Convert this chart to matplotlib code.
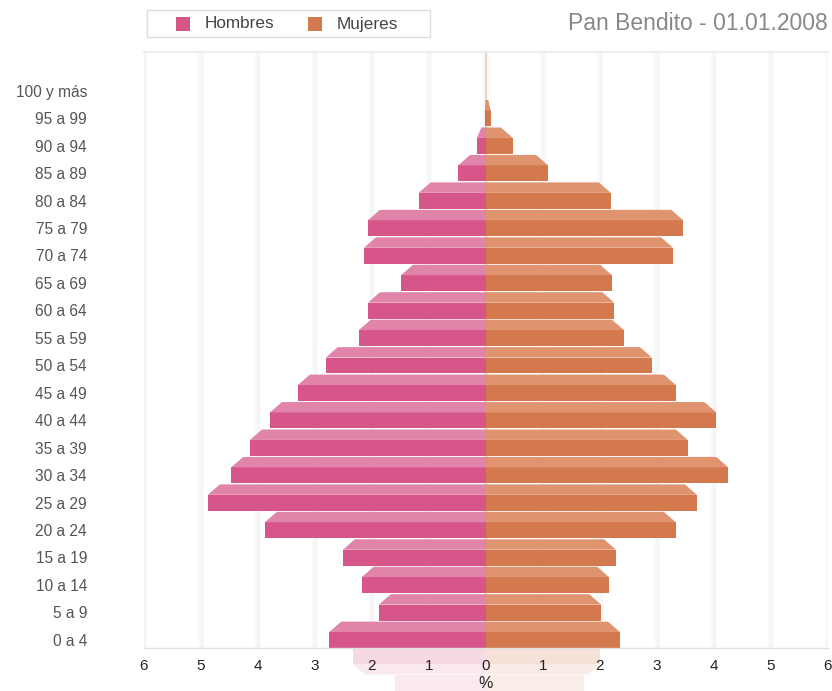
import matplotlib
matplotlib.use("Agg")
import matplotlib.pyplot as plt
from matplotlib.patches import Polygon, Rectangle

plt.rcParams['font.family'] = ['Liberation Sans', 'DejaVu Sans']

# ---------------- data ----------------
age_groups = ["0 a 4", "5 a 9", "10 a 14", "15 a 19", "20 a 24", "25 a 29",
              "30 a 34", "35 a 39", "40 a 44", "45 a 49", "50 a 54", "55 a 59",
              "60 a 64", "65 a 69", "70 a 74", "75 a 79", "80 a 84", "85 a 89",
              "90 a 94", "95 a 99", "100 y más"]
hombres = [2.75, 1.88, 2.18, 2.51, 3.88, 4.88, 4.47, 4.14, 3.79, 3.30, 2.81,
           2.23, 2.07, 1.49, 2.14, 2.07, 1.18, 0.49, 0.16, 0.02, 0.0]
mujeres = [2.35, 2.02, 2.16, 2.28, 3.33, 3.70, 4.25, 3.54, 4.04, 3.33, 2.91,
           2.42, 2.25, 2.21, 3.28, 3.46, 2.19, 1.09, 0.47, 0.08, 0.0]
x_ticks = [-6, -5, -4, -3, -2, -1, 0, 1, 2, 3, 4, 5, 6]
x_tick_labels = ["6", "5", "4", "3", "2", "1", "0", "1", "2", "3", "4", "5", "6"]
series_names = ["Hombres", "Mujeres"]
title = "Pan Bendito - 01.01.2008"

# ---------------- style ----------------
male_front, male_top = "#D6568A", "#E084A9"
female_front, female_top = "#D4784E", "#DF936F"
front_h, top_h, inset = 0.58, 0.96, 0.21
refl_scale = 0.85
refl_alpha = [0.22, 0.12]

W, H = 832, 691
fig = plt.figure(figsize=(W / 100, H / 100), dpi=100)
fig.patch.set_facecolor("white")

def fx(px):
    return px / W

def fy(py):
    return 1 - py / H

ax = fig.add_axes([fx(144), fy(648), fx(828) - fx(144), fy(52) - fy(648)])
ax.set_xlim(-6, 6)
ax.set_ylim(0, 21.71)

# grid (very faint)
for t in x_ticks:
    ax.axvline(t, color="#f8f8f8", lw=4, zorder=0)
    ax.axvline(t, color="#f3f3f3", lw=1.0, zorder=0)
ax.axvline(0, color="#e8cdb2", lw=1.2, zorder=0.5)

n = len(age_groups)
ys = list(range(n))

# front faces
ax.barh(ys, [-v for v in hombres], height=front_h, align="edge",
        color=male_front, lw=0, zorder=2)
ax.barh(ys, mujeres, height=front_h, align="edge",
        color=female_front, lw=0, zorder=2)

# top faces (3D effect)
for i, (m, f) in enumerate(zip(hombres, mujeres)):
    if m > 0:
        d = min(inset, m * 0.5)
        ax.add_patch(Polygon([(-m, i + front_h), (-m + d, i + top_h),
                              (0, i + top_h), (0, i + front_h)],
                             closed=True, color=male_top, lw=0, zorder=2))
    if f > 0:
        d = min(inset, f * 0.5)
        ax.add_patch(Polygon([(f, i + front_h), (f - d, i + top_h),
                              (0, i + top_h), (0, i + front_h)],
                             closed=True, color=female_top, lw=0, zorder=2))

# reflection below the axis
for i, a in enumerate(refl_alpha):
    for v, cf, ct, sgn in [(hombres[i], male_front, male_top, -1),
                           (mujeres[i], female_front, female_top, 1)]:
        w = v * refl_scale
        d = min(inset, w * 0.5)
        ax.add_patch(Rectangle((0, -i - front_h), sgn * w, front_h, color=cf,
                               alpha=a, lw=0, clip_on=False, zorder=1))
        ax.add_patch(Polygon([(sgn * w, -i - front_h), (sgn * (w - d), -i - top_h),
                              (0, -i - top_h), (0, -i - front_h)], closed=True,
                             color=ct, alpha=a * 0.8, lw=0, clip_on=False, zorder=1))

# axes styling
for s in ["left", "right"]:
    ax.spines[s].set_visible(False)
ax.spines["top"].set_color("#eeeeee")
ax.spines["top"].set_linewidth(1.5)
ax.spines["bottom"].set_color("#e0e0e0")
ax.spines["bottom"].set_linewidth(1.0)
ax.set_facecolor("white")

ax.set_xticks(x_ticks)
ax.set_xticklabels(x_tick_labels, fontsize=11, color="#222222")
ax.tick_params(axis="x", length=0, pad=8)
ax.set_yticks([i + 0.3 for i in ys])
ax.set_yticklabels(age_groups, fontsize=11.2, color="#555555")
ax.tick_params(axis="y", length=0, pad=41)
ax.set_xlabel("%", fontsize=11.5, color="#222222", labelpad=2)

# legend (drawn manually)
fig.add_artist(Rectangle((fx(147), fy(37)), fx(430) - fx(147), fy(10) - fy(37),
                         transform=fig.transFigure, facecolor="white",
                         edgecolor="#dddddd", lw=1))
for sq_x, txt_x, col, name in [(176, 205, male_front, series_names[0]),
                               (308, 337, female_front, series_names[1])]:
    fig.add_artist(Rectangle((fx(sq_x), fy(31)), fx(14), fy(17) - fy(31),
                             transform=fig.transFigure, color=col, lw=0))
    fig.text(fx(txt_x), fy(24), name, ha="left", va="center",
             fontsize=12.3, color="#444444")

fig.text(fx(828), fy(23), title, ha="right", va="center",
         fontsize=16.5, color="#888888")

fig.savefig("out.png", dpi=100)
